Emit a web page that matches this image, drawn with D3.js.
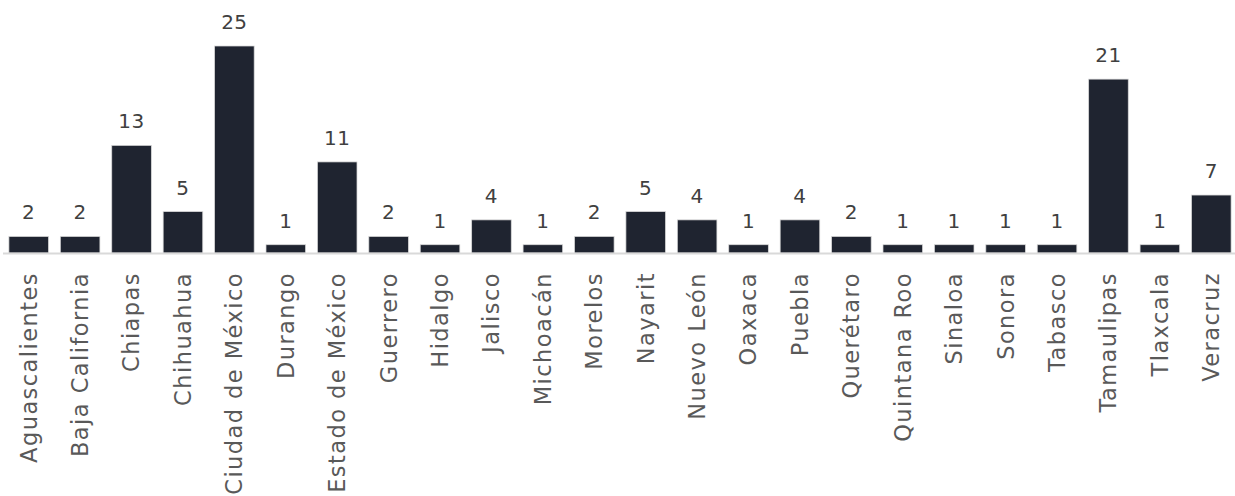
<!DOCTYPE html>
<html><head><meta charset="utf-8">
<script src="https://cdn.jsdelivr.net/npm/d3@7"></script>
<style>body{margin:0;background:#fff;}svg{display:block;}</style>
</head><body>
<svg id="chart" width="1235" height="496"></svg>
<script>
const categories = ["Aguascalientes","Baja California","Chiapas","Chihuahua","Ciudad de México","Durango","Estado de México","Guerrero","Hidalgo","Jalisco","Michoacán","Morelos","Nayarit","Nuevo León","Oaxaca","Puebla","Querétaro","Quintana Roo","Sinaloa","Sonora","Tabasco","Tamaulipas","Tlaxcala","Veracruz"];
const values = [2,2,13,5,25,1,11,2,1,4,1,2,5,4,1,4,2,1,1,1,1,21,1,7];

const svg = d3.select("#chart");
const font = "'DejaVu Sans', sans-serif";
const x = d3.scaleBand().domain(categories).range([3, 1237]).paddingInner(0.23).paddingOuter(0.115);
const y = d3.scaleLinear().domain([0, 25]).range([253, 46]);

svg.selectAll("rect.bar").data(values).join("rect")
  .attr("class","bar")
  .attr("x",(d,i)=>x(categories[i]))
  .attr("y",d=>y(d))
  .attr("width",x.bandwidth())
  .attr("height",d=>y(0)-y(d))
  .attr("fill","#1f2430")
  .attr("stroke","#d9d9d9")
  .attr("stroke-width",0.75);

svg.append("line").attr("x1",3).attr("x2",1235).attr("y1",y(0)+0.5).attr("y2",y(0)+0.5)
  .attr("stroke","#d9d9d9").attr("stroke-width",2);

svg.selectAll("text.val").data(values).join("text")
  .attr("class","val")
  .attr("x",(d,i)=>x(categories[i])+x.bandwidth()/2)
  .attr("y",d=>y(d)-17)
  .attr("text-anchor","middle")
  .attr("font-family",font).attr("font-size",20)
  .attr("letter-spacing",0.5)
  .attr("fill","#404040")
  .text(d=>d);

svg.selectAll("text.cat").data(categories).join("text")
  .attr("class","cat")
  .attr("transform",d=>`translate(${x(d)+x.bandwidth()/2},272) rotate(-90)`)
  .attr("dy","0.35em")
  .attr("text-anchor","end")
  .attr("font-family",font).attr("font-size",22.5)
  .attr("letter-spacing",1.45)
  .attr("fill","#595959")
  .text(d=>d);
</script>
</body></html>
